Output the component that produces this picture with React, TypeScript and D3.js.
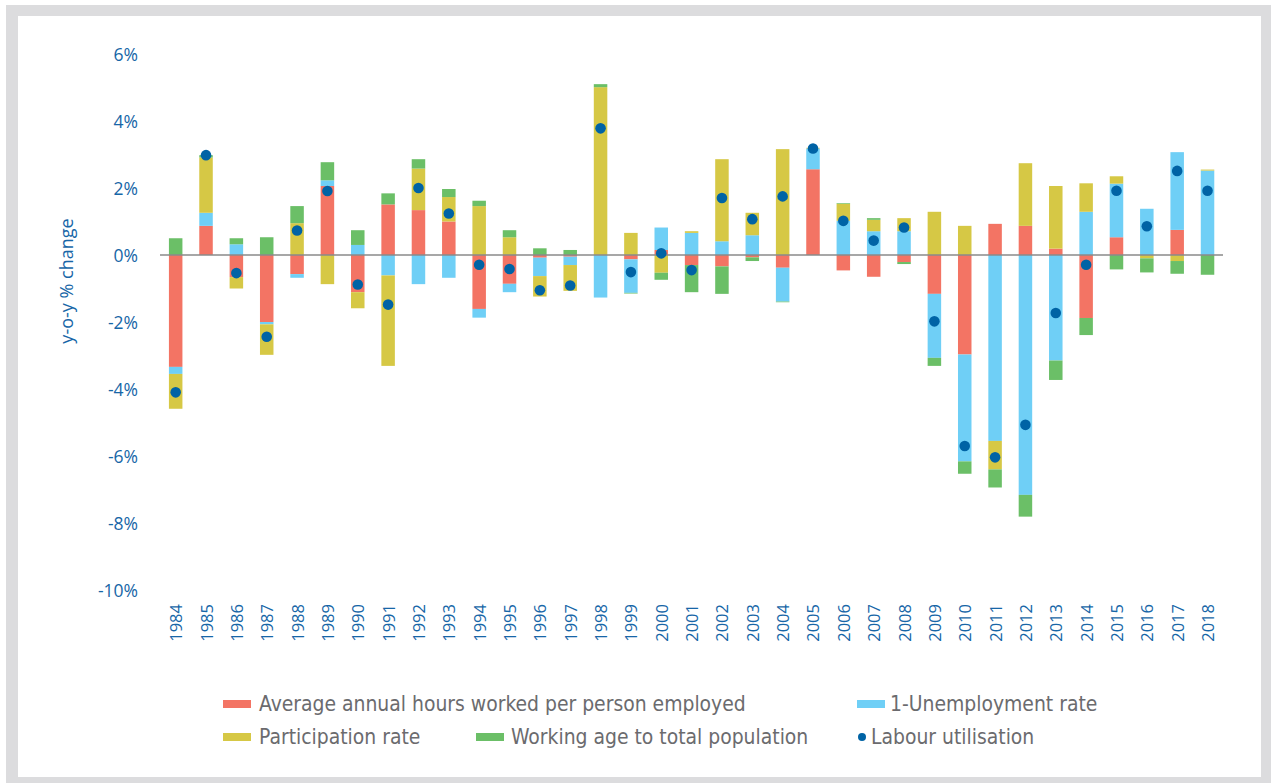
import React from "react";
import * as d3 from "d3";

const years = [
  1984, 1985, 1986, 1987, 1988, 1989, 1990, 1991, 1992, 1993, 1994, 1995,
  1996, 1997, 1998, 1999, 2000, 2001, 2002, 2003, 2004, 2005, 2006, 2007,
  2008, 2009, 2010, 2011, 2012, 2013, 2014, 2015, 2016, 2017, 2018,
];

// Average annual hours worked per person employed
const hoursWorked = [
  -3.34, 0.87, -0.66, -2.0, -0.57, 2.06, -1.11, 1.51, 1.34, 1.0, -1.61, -0.86,
  -0.08, -0.05, 0, -0.13, 0.15, -0.3, -0.34, -0.07, -0.38, 2.56, -0.46, -0.65,
  -0.21, -1.16, -2.97, 0.93, 0.87, 0.19, -1.88, 0.53, 0, 0.75, 0,
];

// 1-Unemployment rate
const unemployment = [
  -0.21, 0.39, 0.32, -0.07, -0.11, 0.17, 0.3, -0.61, -0.87, -0.68, -0.26, -0.25,
  -0.55, -0.25, -1.27, -1.0, 0.67, 0.66, 0.41, 0.59, -1.01, 0.62, 1.02, 0.71,
  0.71, -1.91, -3.19, -5.55, -7.16, -3.15, 1.29, 1.6, 1.38, 2.32, 2.52,
];

// Participation rate
const participation = [
  -1.04, 1.65, -0.34, -0.91, 0.95, -0.87, -0.48, -2.7, 1.24, 0.73, 1.46, 0.53,
  -0.61, -0.77, 5.01, 0.66, -0.53, 0.05, 2.45, 0.67, 3.16, 0.02, 0.51, 0.34,
  0.39, 1.29, 0.87, -0.85, 1.87, 1.87, 0.85, 0.22, -0.1, -0.18, 0.03,
];

// Working age to total population
const workingAge = [
  0.5, 0.07, 0.18, 0.53, 0.51, 0.54, 0.44, 0.33, 0.28, 0.24, 0.16, 0.21,
  0.2, 0.15, 0.09, -0.02, -0.21, -0.81, -0.82, -0.11, -0.02, 0, 0.02, 0.05,
  -0.06, -0.24, -0.37, -0.54, -0.65, -0.58, -0.51, -0.43, -0.42, -0.38, -0.59,
];

// Labour utilisation
const labourUtilisation = [
  -4.1, 2.98, -0.54, -2.44, 0.73, 1.91, -0.88, -1.48, 2.0, 1.24, -0.29, -0.42,
  -1.05, -0.91, 3.78, -0.51, 0.05, -0.45, 1.7, 1.07, 1.75, 3.18, 1.02, 0.43,
  0.82, -1.98, -5.7, -6.04, -5.07, -1.73, -0.29, 1.92, 0.86, 2.51, 1.92,
];

const yTicks = [6, 4, 2, 0, -2, -4, -6, -8, -10];

const seriesKeys = ["hours", "unemp", "part", "work"];
const seriesNames = [
  "Average annual hours worked per person employed",
  "1-Unemployment rate",
  "Participation rate",
  "Working age to total population",
];
const colors = ["#f37464", "#6fcff6", "#d6c845", "#6bbf67"];
const dotColor = "#0063a5";
const axisBlue = "#1766a7";
const legendGrey = "#6b6b6e";

const W = 1271;
const H = 783;

export default function App() {
  const rows = years.map((yr, i) => ({
    year: String(yr),
    hours: hoursWorked[i],
    unemp: unemployment[i],
    part: participation[i],
    work: workingAge[i],
  }));

  const x = d3
    .scaleBand()
    .domain(rows.map((d) => d.year))
    .range([160.5, 1222.7])
    .paddingInner(0.555)
    .paddingOuter(0.2775);

  const y = d3.scaleLinear().domain([-10, 6]).range([590, 54]);

  const stacked = d3
    .stack()
    .keys(seriesKeys)
    .offset(d3.stackOffsetDiverging)(rows as any);

  const tickFont = "'Open Sans', sans-serif";
  const legendFont = "'DejaVu Sans Condensed', 'DejaVu Sans', sans-serif";

  // swatch x, text x, row centre
  const legendItems = [
    { i: 0, sx: 223, tx: 259, y: 704 },
    { i: 1, sx: 857, tx: 890, y: 704 },
    { i: 2, sx: 223, tx: 259, y: 737 },
    { i: 3, sx: 476, tx: 511, y: 737 },
  ];

  return (
    <div style={{ position: "absolute", left: 0, top: 0 }}>
      <svg width={W} height={H} style={{ display: "block" }}>
        <rect x={0} y={0} width={W} height={H} fill="#ffffff" />
        <rect x={6} y={5} width={W - 6} height={H - 5} fill="#dcdcde" />
        <rect x={18} y={16} width={1243} height={761} fill="#ffffff" />

        {/* y tick labels */}
        {yTicks.map((t) => (
          <text
            key={t}
            x={138}
            y={y(t)}
            textAnchor="end"
            dominantBaseline="central"
            fontFamily={tickFont}
            fontSize={17.5}
            fill={axisBlue}
          >
            {t + "%"}
          </text>
        ))}

        <text
          transform={`translate(66,281) rotate(-90)`}
          textAnchor="middle"
          dominantBaseline="central"
          fontFamily={tickFont}
          fontSize={18}
          fill={axisBlue}
        >
          y-o-y % change
        </text>

        {/* bars */}
        {stacked.map((s, si) => (
          <g key={s.key} fill={colors[si]}>
            {s.map((d: any, j) => {
              const top = y(Math.max(d[0], d[1]));
              const bot = y(Math.min(d[0], d[1]));
              if (bot - top < 0.01) return null;
              return (
                <rect
                  key={j}
                  x={x(d.data.year)}
                  y={top}
                  width={x.bandwidth()}
                  height={bot - top}
                />
              );
            })}
          </g>
        ))}

        {/* zero line */}
        <line
          x1={160}
          x2={1223}
          y1={y(0)}
          y2={y(0)}
          stroke="#8a8a8a"
          strokeWidth={1.5}
        />

        {/* labour utilisation dots */}
        {labourUtilisation.map((v, i) => (
          <circle
            key={i}
            cx={(x(String(years[i])) as number) + x.bandwidth() / 2}
            cy={y(v)}
            r={5.3}
            fill={dotColor}
          />
        ))}

        {/* year labels */}
        {years.map((yr) => (
          <text
            key={yr}
            transform={`translate(${
              (x(String(yr)) as number) + x.bandwidth() / 2
            },604) rotate(-90)`}
            textAnchor="end"
            dominantBaseline="central"
            fontFamily={tickFont}
            fontSize={16.5}
            fill={axisBlue}
          >
            {yr}
          </text>
        ))}

        {/* legend */}
        {legendItems.map((l) => (
          <g key={l.i}>
            <rect x={l.sx} y={l.y - 4} width={28} height={8} fill={colors[l.i]} />
            <text
              x={l.tx}
              y={l.y}
              dominantBaseline="central"
              fontFamily={legendFont}
              fontSize={20.9}
              fill={legendGrey}
            >
              {seriesNames[l.i]}
            </text>
          </g>
        ))}
        <circle cx={862} cy={737} r={4} fill={dotColor} />
        <text
          x={871}
          y={737}
          dominantBaseline="central"
          fontFamily={legendFont}
          fontSize={20.9}
          fill={legendGrey}
        >
          Labour utilisation
        </text>
      </svg>
    </div>
  );
}
